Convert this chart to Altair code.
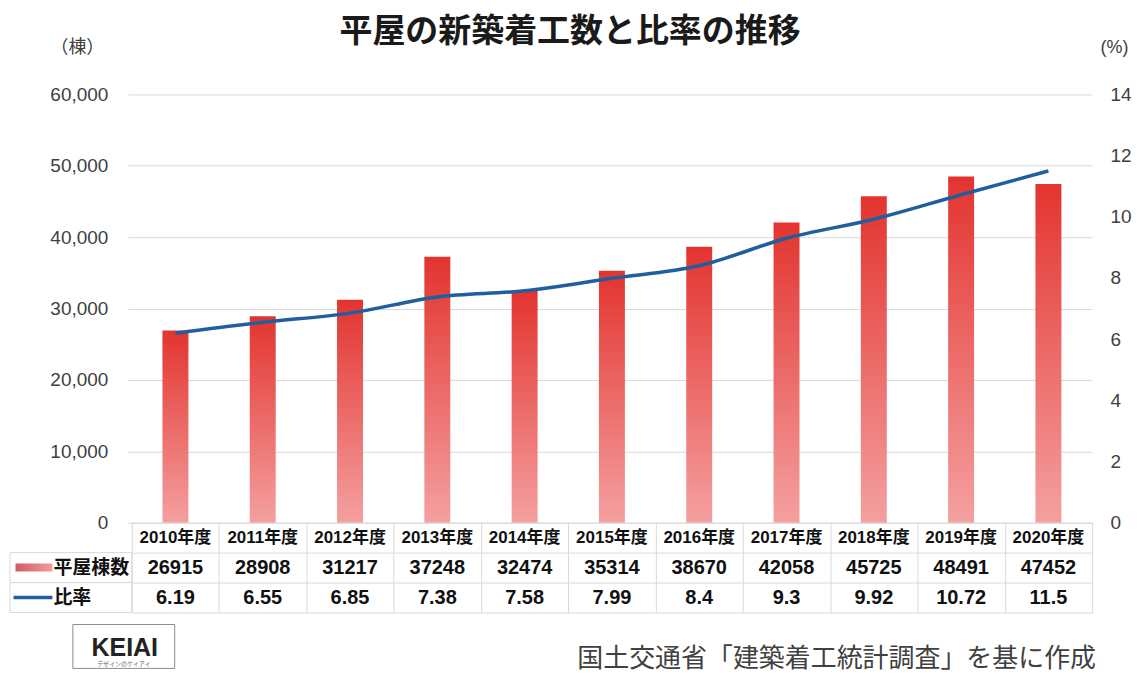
import altair as alt
import pandas as pd

# ---------------- data ----------------
years = ["2010年度", "2011年度", "2012年度", "2013年度", "2014年度", "2015年度",
         "2016年度", "2017年度", "2018年度", "2019年度", "2020年度"]
houses = [26915, 28908, 31217, 37248, 32474, 35314, 38670, 42058, 45725, 48491, 47452]
ratios = [6.19, 6.55, 6.85, 7.38, 7.58, 7.99, 8.4, 9.3, 9.92, 10.72, 11.5]
ratio_labels = ["6.19", "6.55", "6.85", "7.38", "7.58", "7.99", "8.4", "9.3", "9.92", "10.72", "11.5"]
left_ticks = [0, 10000, 20000, 30000, 40000, 50000, 60000]
right_ticks = [0, 2, 4, 6, 8, 10, 12, 14]
row_names = ["平屋棟数", "比率"]
title_text = "平屋の新築着工数と比率の推移"
source_text = "国土交通省「建築着工統計調査」を基に作成"
left_unit = "（棟）"
right_unit = "(%)"
logo_text = "KEIAI"
logo_sub = "デザインのケイアイ"

# ---------------- style ----------------
LAT = "Liberation Sans, Arial, Noto Sans CJK JP"
CJK = "Noto Sans CJK JP"
GRID = "#d9d9d9"
AXC = "#404040"
LINE_C = "#1f5f9e"
W, H_TOP, H_TAB = 962, 429, 90

df = pd.DataFrame({"year": years, "houses": houses, "ratio": ratios})

rows = []
for y, h, r in zip(years, houses, ratio_labels):
    rows.append({"year": y, "row": "hdr", "text": y})
    rows.append({"year": y, "row": row_names[0], "text": str(h)})
    rows.append({"year": y, "row": row_names[1], "text": r})
tdf = pd.DataFrame(rows)
row_domain = ["hdr"] + row_names

xs = alt.Scale(domain=years, paddingInner=0, paddingOuter=0)
ys = alt.Scale(domain=row_domain, paddingInner=0, paddingOuter=0)

bar_grad = alt.Gradient(
    gradient="linear",
    stops=[alt.GradientStop(color="#e3342f", offset=0),
           alt.GradientStop(color="#f4a0a0", offset=1)],
    x1=0, x2=0, y1=0, y2=1)
sw_grad = alt.Gradient(
    gradient="linear",
    stops=[alt.GradientStop(color="#cf5a62", offset=0),
           alt.GradientStop(color="#f29c9c", offset=1)],
    x1=0, x2=1, y1=0, y2=0)

one = pd.DataFrame({"t": [title_text]})

# ---------------- top chart ----------------
# white 1px anchor pinning the page's top-left corner
anchor = alt.Chart(one).mark_rect(fill="white").encode(
    x=alt.value(-124), x2=alt.value(-123), y=alt.value(-86), y2=alt.value(-85))

title = alt.Chart(one).mark_text(
    font=CJK, fontSize=33, fontWeight="bold", color="#1a1a1a",
    align="center", baseline="middle").encode(
    text="t:N", x=alt.value(439), y=alt.value(-63))

bars = alt.Chart(df).mark_bar(size=26, color=bar_grad).encode(
    x=alt.X("year:N", scale=xs, axis=None),
    y=alt.Y("houses:Q", scale=alt.Scale(domain=[0, 60000], nice=False),
            axis=alt.Axis(values=left_ticks, labelExpr="format(datum.value, ',')",
                          grid=True, gridColor=GRID,
                          domain=False, tickSize=4, tickColor=GRID, labelPadding=20,
                          labelFont=LAT, labelFontSize=19, labelColor=AXC,
                          title=left_unit, titleAngle=0, titleX=-55, titleY=-47,
                          titleAlign="center", titleBaseline="middle", titleFont=CJK,
                          titleFontSize=18, titleFontWeight="normal", titleColor=AXC)),
)

line = alt.Chart(df).mark_line(color=LINE_C, strokeWidth=3.5, interpolate="monotone").encode(
    x=alt.X("year:N", scale=xs, axis=None),
    y=alt.Y("ratio:Q", scale=alt.Scale(domain=[0, 14], nice=False),
            axis=alt.Axis(orient="right", values=right_ticks, grid=False, domain=False,
                          ticks=False, labelPadding=18, labelFont=LAT, labelFontSize=19,
                          labelColor=AXC, title=right_unit, titleAngle=0, titleX=22,
                          titleY=-47, titleAlign="center", titleBaseline="middle",
                          titleFont=LAT, titleFontSize=18, titleFontWeight="normal",
                          titleColor=AXC)),
)

top = alt.layer(anchor, title, bars, line).resolve_scale(y="independent").properties(
    width=W, height=H_TOP)

# ---------------- data table ----------------
cells = alt.Chart(tdf).mark_text(fontWeight="bold", font=LAT, color="#111111").encode(
    x=alt.X("year:N", scale=xs,
            axis=alt.Axis(grid=True, tickBand="extent", gridColor=GRID, labels=False,
                          ticks=False, domain=False, title=None)),
    y=alt.Y("row:N", scale=ys,
            axis=alt.Axis(grid=True, tickBand="extent", gridColor=GRID, ticks=False,
                          domain=False, title=None,
                          labelExpr="datum.value == 'hdr' ? '' : datum.value",
                          labelAlign="left", labelPadding=79, labelFont=CJK,
                          labelFontSize=19, labelFontWeight="bold", labelColor="#111111")),
    text="text:N",
    size=alt.condition("datum.row == 'hdr'", alt.value(17), alt.value(20)),
)

hdr_cells = alt.Chart(pd.DataFrame({"row": row_names})).mark_rect(
    fill="transparent", stroke=GRID, strokeWidth=1).encode(
    x=alt.value(-122), x2=alt.value(0), y=alt.Y("row:N", scale=ys))

sw_bar = alt.Chart(pd.DataFrame({"row": [row_names[0]]})).mark_tick(
    orient="horizontal", thickness=8, size=37, color=sw_grad, opacity=1).encode(
    x=alt.value(-98), y=alt.Y("row:N", scale=ys))

sw_line = alt.Chart(pd.DataFrame({"row": [row_names[1]]})).mark_tick(
    orient="horizontal", thickness=3.5, size=39, color=LINE_C, opacity=1).encode(
    x=alt.value(-99), y=alt.Y("row:N", scale=ys))

src = alt.Chart(pd.DataFrame({"t": [source_text]})).mark_text(
    align="right", baseline="middle", font=CJK, fontSize=26, color=AXC).encode(
    text="t:N", x=alt.value(966), y=alt.value(137))

logo_box = alt.Chart(pd.DataFrame({"t": [logo_text]})).mark_rect(
    fill="white", stroke="#8c8c8c", strokeWidth=1).encode(
    x=alt.value(-59), x2=alt.value(43), y=alt.value(102), y2=alt.value(146))

logo_main = alt.Chart(pd.DataFrame({"t": [logo_text]})).mark_text(
    font=LAT, fontWeight="bold", fontSize=25, color="#222222", baseline="middle").encode(
    text="t:N", x=alt.value(-7), y=alt.value(126))

logo_small = alt.Chart(pd.DataFrame({"t": [logo_sub]})).mark_text(
    font=CJK, fontSize=6, color="#666666", baseline="middle").encode(
    text="t:N", x=alt.value(-8), y=alt.value(142))

table = alt.layer(hdr_cells, cells, sw_bar, sw_line, logo_box, logo_main, logo_small, src
                  ).properties(width=W, height=H_TAB)

chart = alt.vconcat(top, table, spacing=0, bounds="flush").properties(
    padding=0,
).configure_view(strokeWidth=0)

chart.save("out.html", embed_options={"renderer": "svg", "actions": False})
